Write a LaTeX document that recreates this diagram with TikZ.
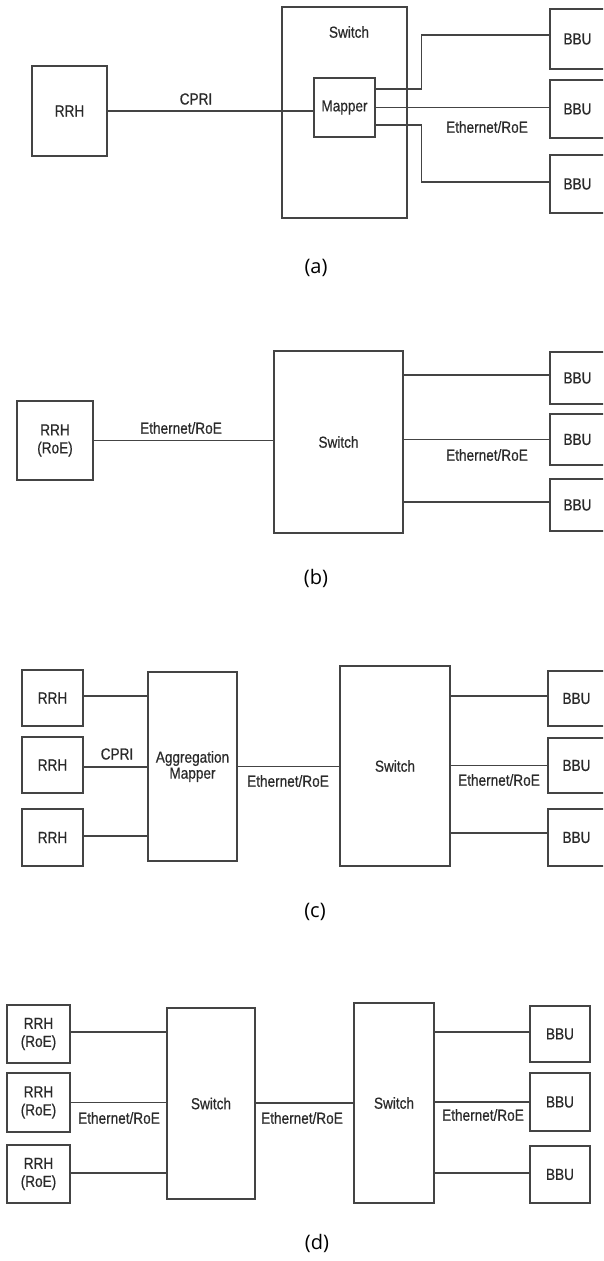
\documentclass[tikz,border=0pt]{standalone}
\usepackage{fontspec}
\setmainfont{Liberation Sans}
\newfontfamily\dfam[FakeStretch=0.85,FakeBold=0.6]{Liberation Sans}
\newfontfamily\capfont{Open Sans}
\newcommand\dfont{\dfam\fontsize{16}{17}\selectfont}
\newcommand\dfonttwo{\dfam\fontsize{16}{18}\selectfont}
\newcommand\dfontagg{\dfam\fontsize{16}{16}\selectfont}
\definecolor{lc}{HTML}{444444}
\definecolor{tc}{HTML}{2a2a2a}
\begin{document}
\begin{tikzpicture}[x=1pt,y=-1pt,
  box/.style={draw=lc, line width=1.3pt, inner sep=0pt, text=tc, font=\dfont, align=center},
  lbl/.style={inner sep=0pt, text=tc, font=\dfont},
  captext/.style={inner sep=0pt, text=black, font=\capfont\fontsize{20}{24}\selectfont},
  conn/.style={draw=lc, line width=1.3pt}]
\useasboundingbox (0,0) rectangle (603,1261);
\clip (0,0) rectangle (603,1261);

% ---------- (a) ----------
\node[box, minimum width=75pt, minimum height=90pt] (rrhA) at (69.5,111) {RRH};
\node[box, minimum width=125pt, minimum height=211pt] (swA) at (344.5,112.5) {};
\node[lbl] (swAt) at (349,32) {Switch};
\node[box, minimum width=61pt, minimum height=59pt] (mapA) at (344.5,107.5) {Mapper};
\node[box, minimum width=55pt, minimum height=60pt] (bbuA1) at (577.5,39) {BBU};
\node[box, minimum width=55pt, minimum height=58pt] (bbuA2) at (577.5,109) {BBU};
\node[box, minimum width=55pt, minimum height=58pt] (bbuA3) at (577.5,184) {BBU};
\draw[conn] (rrhA.east) -- (rrhA.east -| mapA.west);
\draw[conn] ([yshift=18.5pt]mapA.east) -- ++(46,0) |- ([yshift=4pt]bbuA1.west);
\draw[conn] (mapA.east) -- (mapA.east -| bbuA2.west);
\draw[conn] ([yshift=-17.5pt]mapA.east) -- ++(46,0) |- ([yshift=2pt]bbuA3.west);
\node[lbl] (cpriA) at (196,99) {CPRI};
\node[lbl] (ethA) at (487,127) {Ethernet/RoE};
\node[captext] (capA) at (316,268) {(a)};

% ---------- (b) ----------
\node[box, minimum width=76pt, minimum height=79pt, font=\dfonttwo] (rrhB) at (55,440.5) {RRH\\(RoE)};
\node[box, minimum width=129pt, minimum height=182pt] (swB) at (338.5,442) {Switch};
\node[box, minimum width=55pt, minimum height=52pt] (bbuB1) at (577.5,378) {BBU};
\node[box, minimum width=55pt, minimum height=51pt] (bbuB2) at (577.5,439.5) {BBU};
\node[box, minimum width=55pt, minimum height=52pt] (bbuB3) at (577.5,505) {BBU};
\draw[conn] (rrhB.east) -- (rrhB.east -| swB.west);
\draw[conn] ([yshift=3pt]bbuB1.west -| swB.east) -- ([yshift=3pt]bbuB1.west);
\draw[conn] (bbuB2.west -| swB.east) -- (bbuB2.west);
\draw[conn] ([yshift=3pt]bbuB3.west -| swB.east) -- ([yshift=3pt]bbuB3.west);
\node[lbl] (ethB1) at (181,428) {Ethernet/RoE};
\node[lbl] (ethB2) at (487,455) {Ethernet/RoE};
\node[captext] (capB) at (316,578) {(b)};

% ---------- (c) ----------
\node[box, minimum width=61pt, minimum height=56pt] (rrhC1) at (52.5,698) {RRH};
\node[box, minimum width=61pt, minimum height=56pt] (rrhC2) at (52.5,765) {RRH};
\node[box, minimum width=61pt, minimum height=57pt] (rrhC3) at (52.5,837.5) {RRH};
\node[box, minimum width=89pt, minimum height=189pt, font=\dfontagg] (aggC) at (192.5,766.5) {Aggregation\\Mapper};
\node[box, minimum width=110pt, minimum height=200pt] (swC) at (395,766) {Switch};
\node[box, minimum width=57pt, minimum height=55pt] (bbuC1) at (576.5,698.5) {BBU};
\node[box, minimum width=57pt, minimum height=55pt] (bbuC2) at (576.5,765.5) {BBU};
\node[box, minimum width=57pt, minimum height=57pt] (bbuC3) at (576.5,837.5) {BBU};
\draw[conn] ([yshift=2pt]rrhC1.east) -- ([yshift=2pt]rrhC1.east -| aggC.west);
\draw[conn] ([yshift=-2pt]rrhC2.east) -- ([yshift=-2pt]rrhC2.east -| aggC.west);
\draw[conn] ([yshift=1.5pt]rrhC3.east) -- ([yshift=1.5pt]rrhC3.east -| aggC.west);
\draw[conn] (aggC.east) -- (aggC.east -| swC.west);
\draw[conn] ([yshift=2.5pt]bbuC1.west -| swC.east) -- ([yshift=2.5pt]bbuC1.west);
\draw[conn] (bbuC2.west -| swC.east) -- (bbuC2.west);
\draw[conn] ([yshift=4.5pt]bbuC3.west -| swC.east) -- ([yshift=4.5pt]bbuC3.west);
\node[lbl] (cpriC) at (117,754) {CPRI};
\node[lbl] (ethC1) at (288,781) {Ethernet/RoE};
\node[lbl] (ethC2) at (499,780) {Ethernet/RoE};
\node[captext] (capC) at (315,912) {(c)};

% ---------- (d) ----------
\node[box, minimum width=63pt, minimum height=58pt, font=\dfonttwo] (rrhD1) at (38.5,1034) {RRH\\(RoE)};
\node[box, minimum width=63pt, minimum height=59pt, font=\dfonttwo] (rrhD2) at (38.5,1102.5) {RRH\\(RoE)};
\node[box, minimum width=63pt, minimum height=58pt, font=\dfonttwo] (rrhD3) at (38.5,1174) {RRH\\(RoE)};
\node[box, minimum width=88pt, minimum height=191pt] (swD1) at (211,1103.5) {Switch};
\node[box, minimum width=80pt, minimum height=200pt] (swD2) at (394,1103) {Switch};
\node[box, minimum width=60pt, minimum height=56pt] (bbuD1) at (560,1034) {BBU};
\node[box, minimum width=60pt, minimum height=58pt] (bbuD2) at (560,1102) {BBU};
\node[box, minimum width=60pt, minimum height=57pt] (bbuD3) at (560,1174.5) {BBU};
\draw[conn] ([yshift=2pt]rrhD1.east) -- ([yshift=2pt]rrhD1.east -| swD1.west);
\draw[conn] (rrhD2.east) -- (rrhD2.east -| swD1.west);
\draw[conn] ([yshift=1pt]rrhD3.east) -- ([yshift=1pt]rrhD3.east -| swD1.west);
\draw[conn] (swD1.east |- swD2.west) -- (swD2.west);
\draw[conn] ([yshift=2pt]bbuD1.west -| swD2.east) -- ([yshift=2pt]bbuD1.west);
\draw[conn] (bbuD2.west -| swD2.east) -- (bbuD2.west);
\draw[conn] ([yshift=1.5pt]bbuD3.west -| swD2.east) -- ([yshift=1.5pt]bbuD3.west);
\node[lbl] (ethD1) at (119,1118) {Ethernet/RoE};
\node[lbl] (ethD2) at (302,1118) {Ethernet/RoE};
\node[lbl] (ethD3) at (483,1115) {Ethernet/RoE};
\node[captext] (capD) at (317,1243) {(d)};
\end{tikzpicture}
\end{document}
